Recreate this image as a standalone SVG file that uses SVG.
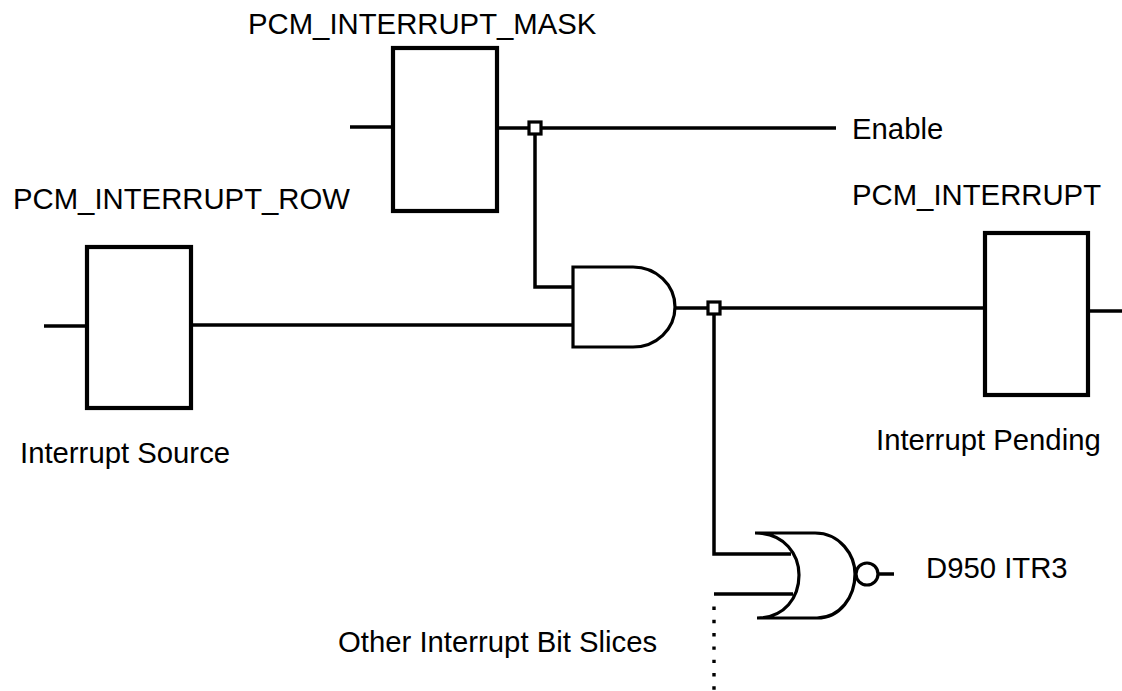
<svg xmlns="http://www.w3.org/2000/svg" width="1122" height="691" viewBox="0 0 1122 691">
<style>
.w{fill:none;stroke:#000;stroke-width:3.5;stroke-linecap:butt;stroke-linejoin:miter}
.box{fill:#fff;stroke:#000;stroke-width:4.2}
.gate{fill:#fff;stroke:#000;stroke-width:3.2}
.jn{fill:#fff;stroke:#000;stroke-width:3.2}
.t{font-family:"Liberation Sans",Arial,sans-serif;font-size:29.3px;fill:#000}
.dot{fill:none;stroke:#000;stroke-width:3.4;stroke-dasharray:3.4 9.9}
</style>
<rect width="1122" height="691" fill="#fff"/>
<g id="connectors">
<path class="w" d="M350,127 H393"/>
<path class="w" d="M497,128 H836"/>
<path class="w" d="M535,128 V287 H573"/>
<path class="w" d="M44,326 H87"/>
<path class="w" d="M191,325 H573"/>
<path class="w" d="M675,308 H985"/>
<path class="w" d="M1088,311 H1122"/>
<path class="w" d="M714,308 V554 H791"/>
<path class="w" d="M714,594 H793"/>
<path class="dot" d="M714,606.5 V691"/>
<path class="w" d="M878,574 H894"/>
</g>
<g id="mask-register">
<rect class="box" x="393" y="48" width="104" height="163"/>
<text class="t" x="248" y="34">PCM_INTERRUPT_MASK</text>
</g>
<g id="enable-label">
<text class="t" x="852" y="139">Enable</text>
</g>
<g id="row-register">
<rect class="box" x="87" y="247" width="104" height="161"/>
<text class="t" x="13" y="209">PCM_INTERRUPT_ROW</text>
<text class="t" x="20" y="463">Interrupt Source</text>
</g>
<g id="pending-register">
<rect class="box" x="985" y="233" width="103" height="162"/>
<text class="t" x="852" y="205">PCM_INTERRUPT</text>
<text class="t" x="876" y="450">Interrupt Pending</text>
</g>
<g id="and-gate">
<path class="gate" d="M573,267 H633 A42,40 0 0 1 633,347 H573 Z"/>
</g>
<g id="mask-junction">
<rect class="jn" x="529" y="122" width="12" height="12"/>
</g>
<g id="and-junction">
<rect class="jn" x="708" y="302" width="12" height="12"/>
</g>
<g id="nor-gate">
<path class="gate" d="M755,533 H815 C840,533 855,555 855,574 C855,597 840,618 817,618 H757 C785,618 799,597 799,575 C799,555 785,533 755,533 Z"/>
<circle class="gate" cx="867" cy="574" r="11"/>
<text class="t" x="926" y="578">D950 ITR3</text>
</g>
<g id="other-slices">
<text class="t" x="338" y="652">Other Interrupt Bit Slices</text>
</g>
</svg>
